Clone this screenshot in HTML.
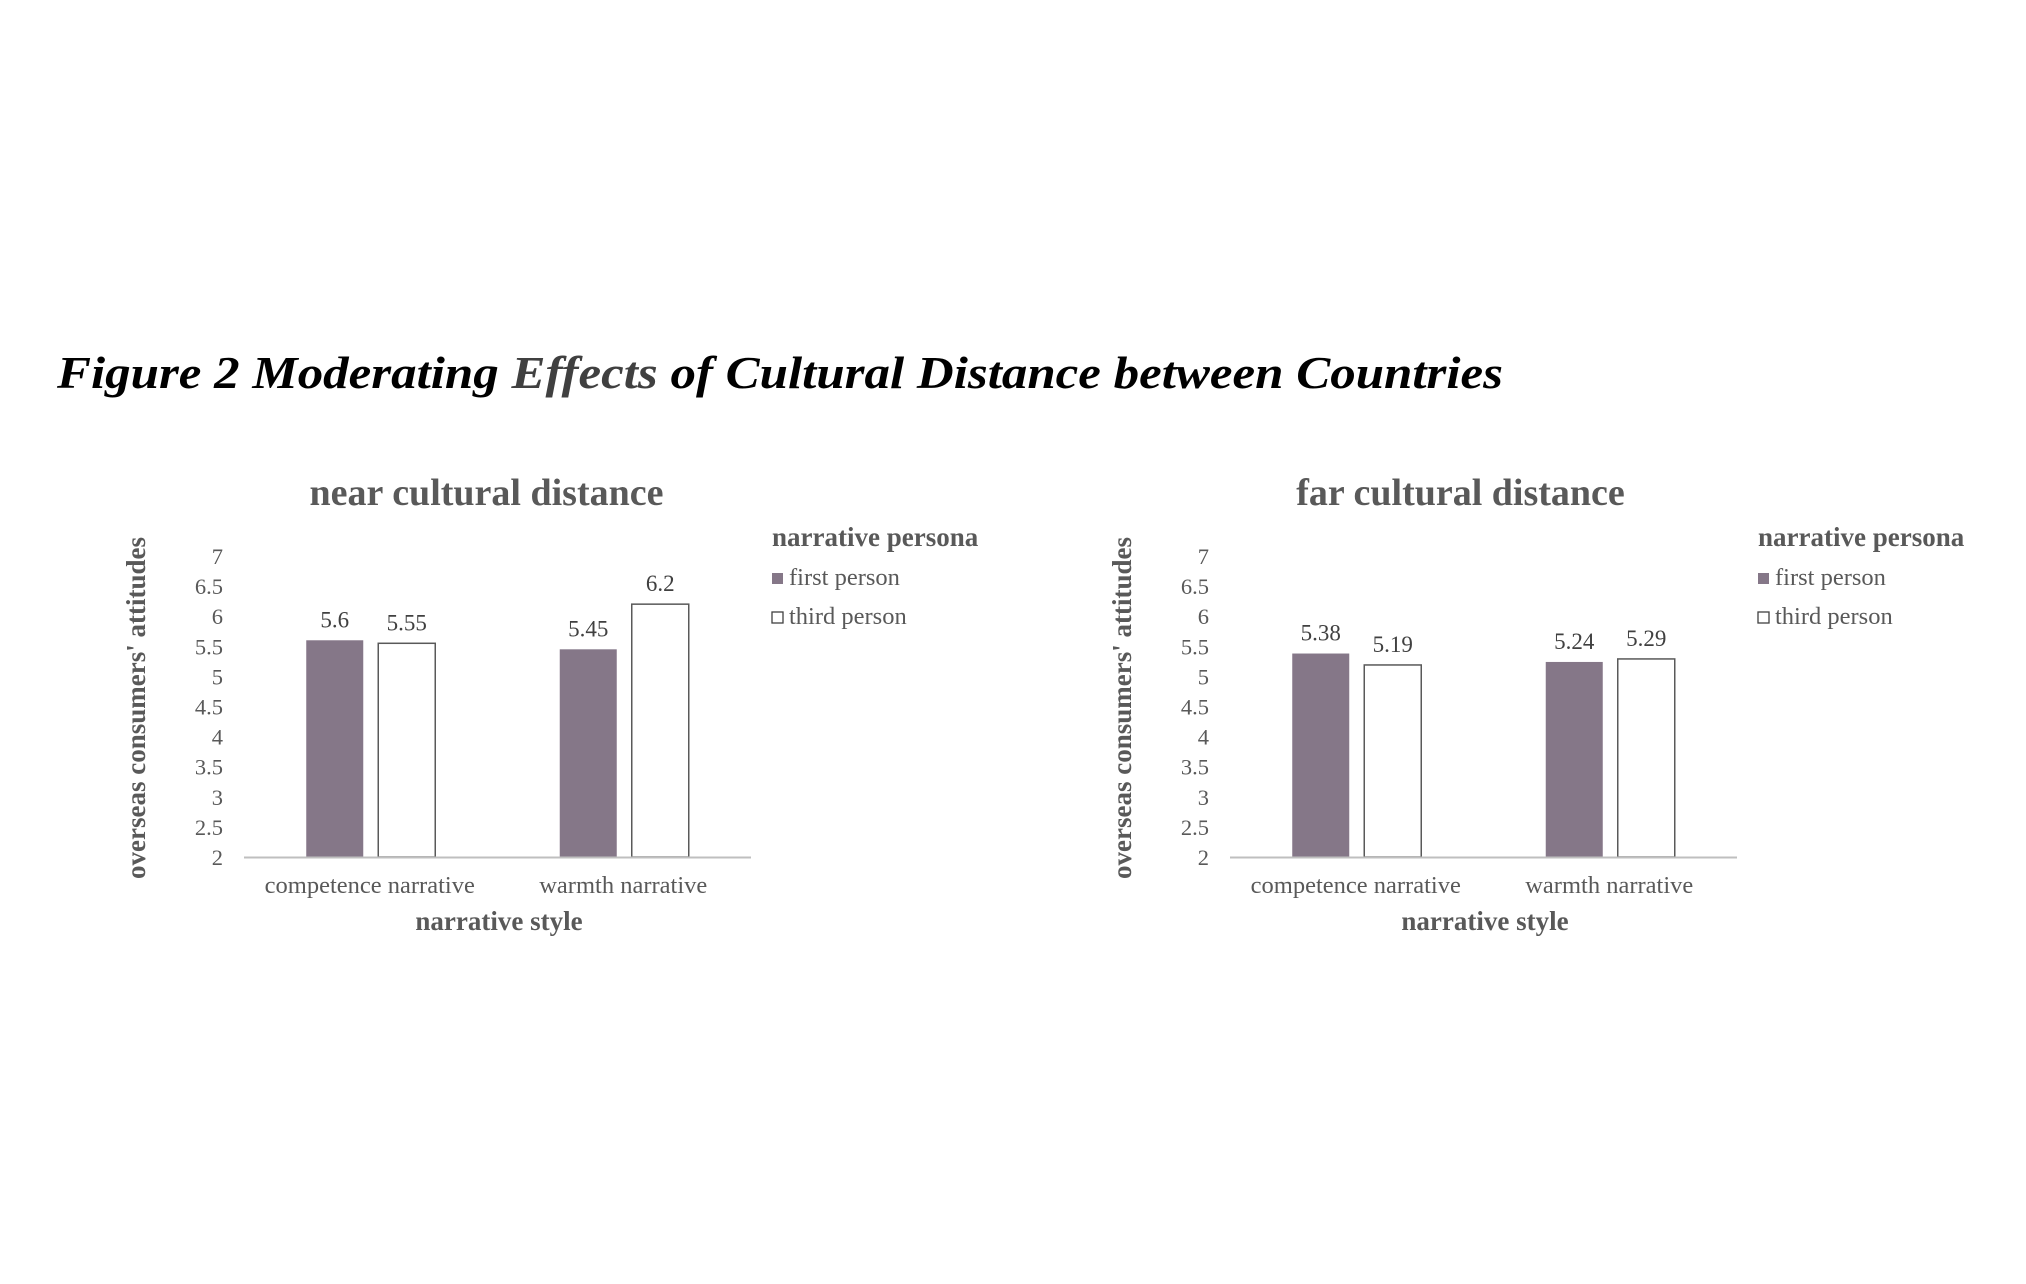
<!DOCTYPE html>
<html><head><meta charset="utf-8"><style>
html,body{margin:0;padding:0;background:#fff;}
svg{display:block;}
text{font-family:"Liberation Serif",serif;}
</style></head><body>
<svg id="fig" width="2026" height="1284" viewBox="0 0 2026 1284">
<text x="57" y="388" font-size="46" font-weight="bold" font-style="italic" fill="#000" textLength="1446" lengthAdjust="spacingAndGlyphs">Figure 2 Moderating <tspan fill="#404040">Effects</tspan> of Cultural Distance between Countries</text>
</svg>
<script>
const categories=["competence narrative","warmth narrative"];
const seriesNames=["first person","third person"];
const nearFirst=[5.6,5.45];
const nearThird=[5.55,6.2];
const farFirst=[5.38,5.24];
const farThird=[5.19,5.29];
const yTicks=[2,2.5,3,3.5,4,4.5,5,5.5,6,6.5,7];
const yTickLabels=["2","2.5","3","3.5","4","4.5","5","5.5","6","6.5","7"];
const nearLabels=[["5.6","5.45"],["5.55","6.2"]];
const farLabels=[["5.38","5.24"],["5.19","5.29"]];
const charts=[
 {ox:0,tx:0,title:"near cultural distance",series:[nearFirst,nearThird],labels:nearLabels,name:"near"},
 {ox:986,tx:-12,title:"far cultural distance",series:[farFirst,farThird],labels:farLabels,name:"far"}];
const NS="http://www.w3.org/2000/svg";
const svg=document.getElementById('fig');
function mk(tag,attrs,parent,txt){const e=document.createElementNS(NS,tag);for(const k in attrs)e.setAttribute(k,attrs[k]);if(txt!=null)e.textContent=txt;(parent||svg).appendChild(e);return e;}
const Y0=857,Y1=556,YMIN=2,YMAX=7;
function yS(v){return Y0-(v-YMIN)/(YMAX-YMIN)*(Y0-Y1);}
charts.forEach(c=>{
 const g=mk('g',{});
 
 
 const x0=244+c.ox,x1=751+c.ox;
 const band=(x1-x0)/categories.length;
 function xC(i){return x0+band*(i+0.5);}
 const t=mk('text',{x:(309+664)/2+c.ox+c.tx,y:505,'font-size':38,'font-weight':'bold',fill:'#595959','text-anchor':'middle'},g,c.title);
 
 
 yTicks.forEach((v,i)=>{
  const tl=mk('text',{x:223+c.ox,y:yS(v)+8,'font-size':22.5,fill:'#595959','text-anchor':'end'},g,yTickLabels[i]);
  
  
 });
 const yt=mk('text',{x:0,y:0,'font-size':27,'font-weight':'bold',fill:'#595959','text-anchor':'middle',transform:`translate(${145+c.ox},708) rotate(-90)`},g,"overseas consumers' attitudes");
 
 
 const bw=57,gap=15;
 c.series.forEach((s,si)=>{
  s.forEach((v,ci)=>{
   const bx=xC(ci)-bw-gap/2+si*(bw+gap);
   const r=mk('rect',{x:bx,y:yS(v),width:bw,height:Y0-yS(v),fill:si===0?'#857788':'#fff',stroke:si===0?'#857788':'#595959','stroke-width':si===0?0:1.5},g);
   
   
   const lb=mk('text',{x:bx+bw/2,y:yS(v)-13,'font-size':23,fill:'#404040','text-anchor':'middle'},g,c.labels[si][ci]);
   
   
  });
 });
 const ax=mk('line',{x1:x0,x2:x1,y1:Y0+0.5,y2:Y0+0.5,stroke:'#bfbfbf','stroke-width':2},g);
 
 
 categories.forEach((cat,i)=>{
  const xl=mk('text',{x:xC(i)-1,y:893,'font-size':24.5,fill:'#595959','text-anchor':'middle'},g,cat);
  
  
 });
 const xt=mk('text',{x:499+c.ox,y:930,'font-size':27,'font-weight':'bold',fill:'#595959','text-anchor':'middle'},g,"narrative style");
 
 
 const lt=mk('text',{x:772+c.ox,y:546,'font-size':27,'font-weight':'bold',fill:'#595959'},g,"narrative persona");
 
 
 seriesNames.forEach((n,i)=>{
  const ly=572+i*39;
  const sq=mk('rect',{x:772+c.ox,y:ly+1,width:11,height:11,fill:i===0?'#857788':'#fff',stroke:i===0?'#857788':'#404040','stroke-width':i===0?0:1.3},g);
  
  
  const le=mk('text',{x:789+c.ox,y:ly+13,'font-size':24.5,fill:'#595959'},g,n);
  
  
 });
});
</script>
</body></html>
